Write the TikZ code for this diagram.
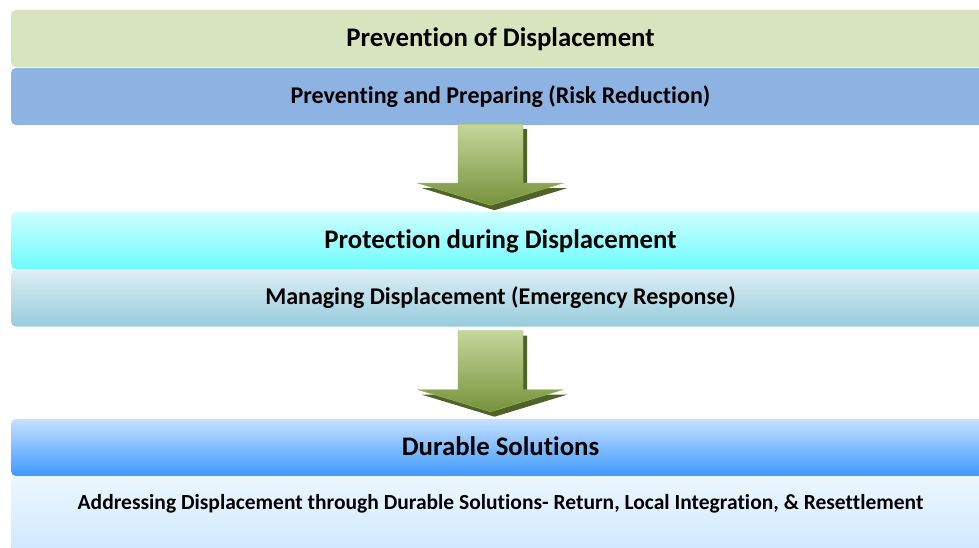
\documentclass[tikz,border=0pt]{standalone}
\usepackage{fontspec}
\setmainfont{Carlito}[Ligatures=NoCommon]
\usetikzlibrary{positioning}

\definecolor{stageGreen}{RGB}{215,228,189}
\definecolor{stageBlue}{RGB}{141,179,226}
\definecolor{cyanTop}{RGB}{204,255,255}
\definecolor{cyanBot}{RGB}{110,252,255}
\definecolor{greyTop}{RGB}{222,238,244}
\definecolor{greyBot}{RGB}{150,204,221}
\definecolor{blueTop}{RGB}{198,224,255}
\definecolor{blueBot}{RGB}{61,153,255}
\definecolor{paleTop}{RGB}{236,247,255}
\definecolor{paleBot}{RGB}{204,230,255}
\definecolor{arrowLight}{RGB}{196,215,155}
\definecolor{arrowMid}{RGB}{155,187,89}
\definecolor{arrowDark}{RGB}{118,146,60}
\definecolor{arrowShadow}{RGB}{79,98,40}

\tikzset{
  band/.style={rectangle, rounded corners=5pt, minimum width=979pt,
    minimum height=57pt, inner sep=0pt},
  title/.style={font=\fontsize{26.8}{32}\selectfont\bfseries, text height=21pt, text depth=5pt},
  subtitle/.style={font=\fontsize{24}{29}\selectfont\bfseries},
  blockarrow/.pic={
    % shadow, then the shaded arrow
    \fill[arrowShadow] (-28.5,5) -- (36.5,5) -- (36.5,64) -- (76.5,64) -- (4,86)
      -- (-68.5,64) -- (-28.5,64) -- cycle;
    \draw[arrowMid, top color=arrowLight, middle color=arrowMid, bottom color=arrowDark]
      (-32.5,0) -- (32.5,0) -- (32.5,59) -- (72.5,59) -- (0,81)
      -- (-72.5,59) -- (-32.5,59) -- cycle;
  }
}

\begin{document}
\begin{tikzpicture}[x=1pt,y=-1pt]
    \clip (0,0) rectangle (979,548);
    \fill[white] (0,0) rectangle (979,548);

    % Prevention
    \node[band, title, fill=stageGreen] (prevention) at (500.5,38.5) {Prevention of Displacement};
    \node[band, subtitle, fill=stageBlue] (preparing) at (500.5,96.5) {Preventing and Preparing (Risk Reduction)};
    \pic (arrowA) at ([xshift=-10pt,yshift=1pt]preparing.south) {blockarrow};

    % Protection
    \node[band, title, top color=cyanTop, bottom color=cyanBot] (protection) at (500.5,240.5) {Protection during Displacement};
    \node[band, subtitle, top color=greyTop, bottom color=greyBot] (managing) at (500.5,298) {Managing Displacement (Emergency Response)};
    \pic (arrowB) at ([xshift=-10pt,yshift=-4pt]managing.south) {blockarrow};

    % Durable solutions
    \node[band, title, top color=blueTop, bottom color=blueBot] (durable) at (500.5,447.5) {Durable Solutions};
    \node[band, minimum height=83pt, text depth=34pt, font=\fontsize{21.5}{26}\selectfont\bfseries,
          top color=paleTop, bottom color=paleBot] (addressing) at (500.5,518.5)
          {Addressing Displacement through Durable Solutions- Return, Local Integration, \& Resettlement};
\end{tikzpicture}
\end{document}
